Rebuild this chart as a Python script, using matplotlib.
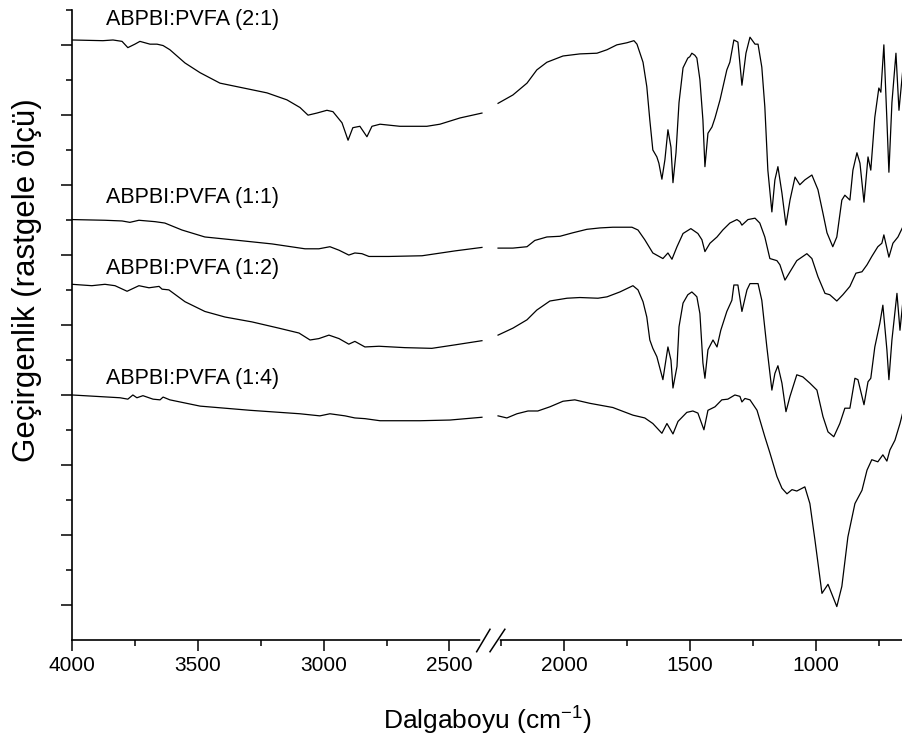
import numpy as np
import matplotlib.pyplot as plt

plt.rcParams['font.family'] = ['Liberation Sans', 'DejaVu Sans']
plt.rcParams['mathtext.fontset'] = 'custom'
plt.rcParams['mathtext.rm'] = 'Liberation Sans'
plt.rcParams['mathtext.it'] = 'Liberation Sans:italic'

# FTIR spectra, wavenumber (cm-1) and offset transmittance (arbitrary units)
# each spectrum in two pieces: above and below the axis break
wn_21_a = [4000, 3877, 3837, 3801, 3778, 3750, 3730, 3690, 3662, 3638, 3611, 3551, 3491, 3412, 3305,
           3225, 3146, 3094, 3062, 3027, 2987, 2963, 2927, 2903, 2884, 2856, 2828, 2808, 2776, 2697,
           2590, 2538, 2458, 2371]
tr_21_a = [8.06, 8.05, 8.06, 8.04, 7.95, 8.00, 8.04, 8.00, 8.00, 7.98, 7.92, 7.73, 7.59, 7.44, 7.36,
           7.30, 7.20, 7.09, 6.98, 7.01, 7.05, 7.03, 6.87, 6.62, 6.80, 6.82, 6.67, 6.82, 6.85, 6.82,
           6.82, 6.85, 6.94, 7.01]
wn_21_b = [2263, 2204, 2148, 2109, 2069, 2005, 1938, 1870, 1830, 1791, 1751, 1723, 1711, 1699, 1687,
           1672, 1660, 1648, 1632, 1624, 1612, 1600, 1588, 1576, 1568, 1556, 1544, 1528, 1509, 1501,
           1493, 1481, 1473, 1461, 1449, 1441, 1429, 1413, 1401, 1381, 1354, 1342, 1326, 1310, 1294,
           1278, 1262, 1242, 1230, 1215, 1203, 1191, 1175, 1163, 1151, 1135, 1119, 1103, 1083, 1064,
           1044, 1016, 992, 972, 956, 933, 917, 897, 885, 865, 853, 837, 825, 809, 793,
           782, 766, 750, 742, 730, 718, 710, 698, 682, 670, 654]
tr_21_b = [7.15, 7.27, 7.44, 7.63, 7.74, 7.83, 7.86, 7.87, 7.92, 7.99, 8.02, 8.05, 8.00, 7.87, 7.74,
           7.39, 6.91, 6.48, 6.38, 6.29, 6.06, 6.34, 6.77, 6.52, 6.01, 6.44, 7.16, 7.66, 7.80, 7.82,
           7.87, 7.84, 7.80, 7.49, 6.91, 6.24, 6.72, 6.81, 6.94, 7.20, 7.63, 7.74, 8.06, 8.03, 7.41,
           7.87, 8.10, 8.00, 8.00, 7.67, 7.10, 6.19, 5.59, 6.05, 6.24, 5.86, 5.40, 5.76, 6.09, 5.98,
           6.05, 6.12, 5.91, 5.57, 5.29, 5.09, 5.23, 5.76, 5.83, 5.76, 6.19, 6.44, 6.29, 5.73, 6.38,
           6.19, 6.95, 7.37, 7.31, 7.99, 6.91, 6.16, 7.16, 7.87, 7.05, 7.66]

wn_11_a = [4000, 3869, 3801, 3770, 3734, 3670, 3631, 3563, 3472, 3337, 3205, 3074, 3019, 2975, 2939,
           2900, 2876, 2848, 2820, 2741, 2609, 2478, 2371]
tr_11_a = [5.48, 5.47, 5.46, 5.44, 5.47, 5.45, 5.43, 5.33, 5.23, 5.18, 5.13, 5.06, 5.06, 5.09, 5.04,
           4.97, 5.00, 4.99, 4.95, 4.95, 4.96, 5.03, 5.08]
wn_11_b = [2263, 2204, 2148, 2117, 2069, 2017, 1966, 1910, 1858, 1807, 1731, 1707, 1680, 1648, 1608,
           1588, 1572, 1552, 1528, 1497, 1469, 1453, 1441, 1421, 1393, 1370, 1342, 1314, 1302, 1294,
           1270, 1242, 1223, 1203, 1183, 1155, 1143, 1123, 1103, 1076, 1036, 1016, 992, 964, 945,
           917, 893, 865, 841, 817, 797, 778, 754, 738, 730, 710, 694, 674, 654]
tr_11_b = [5.07, 5.07, 5.09, 5.18, 5.23, 5.24, 5.29, 5.34, 5.36, 5.37, 5.37, 5.33, 5.19, 5.00, 4.92,
           5.00, 4.91, 5.09, 5.28, 5.35, 5.28, 5.19, 5.02, 5.14, 5.23, 5.33, 5.43, 5.48, 5.45, 5.40,
           5.48, 5.50, 5.43, 5.23, 4.92, 4.89, 4.83, 4.61, 4.73, 4.89, 4.99, 4.92, 4.66, 4.42, 4.40,
           4.31, 4.40, 4.52, 4.71, 4.73, 4.83, 4.95, 5.09, 5.14, 5.26, 4.94, 5.14, 5.23, 5.38]

wn_12_a = [4000, 3921, 3869, 3829, 3781, 3734, 3694, 3654, 3642, 3615, 3551, 3472, 3392, 3285, 3178,
           3098, 3054, 3019, 2979, 2939, 2900, 2876, 2836, 2780, 2677, 2570, 2478, 2371]
tr_12_a = [4.55, 4.53, 4.55, 4.53, 4.45, 4.53, 4.50, 4.52, 4.48, 4.47, 4.30, 4.16, 4.08, 4.01, 3.92,
           3.85, 3.75, 3.77, 3.82, 3.77, 3.69, 3.73, 3.65, 3.66, 3.64, 3.63, 3.68, 3.74]
wn_12_b = [2263, 2204, 2148, 2109, 2057, 1989, 1938, 1866, 1830, 1779, 1727, 1707, 1687, 1672, 1660,
           1648, 1632, 1608, 1600, 1588, 1576, 1568, 1552, 1544, 1528, 1509, 1501, 1493, 1481, 1473,
           1461, 1449, 1441, 1429, 1409, 1393, 1378, 1354, 1334, 1326, 1310, 1294, 1274, 1262, 1230,
           1215, 1195, 1175, 1163, 1151, 1135, 1119, 1103, 1076, 1052, 1024, 996, 972, 952, 929,
           905, 885, 865, 845, 833, 809, 793, 782, 766, 746, 734, 718, 710, 698, 678,
           666, 654]
tr_12_b = [3.82, 3.92, 4.04, 4.18, 4.31, 4.35, 4.36, 4.35, 4.37, 4.44, 4.53, 4.47, 4.30, 4.08, 3.75,
           3.63, 3.51, 3.18, 3.37, 3.65, 3.46, 3.06, 3.37, 3.94, 4.28, 4.40, 4.42, 4.44, 4.40, 4.37,
           4.13, 3.42, 3.20, 3.61, 3.75, 3.65, 3.89, 4.16, 4.32, 4.54, 4.54, 4.16, 4.47, 4.56, 4.56,
           4.32, 3.65, 3.03, 3.27, 3.38, 3.13, 2.72, 2.94, 3.25, 3.22, 3.13, 3.03, 2.65, 2.43, 2.36,
           2.55, 2.77, 2.77, 3.20, 3.18, 2.82, 3.15, 3.20, 3.65, 3.99, 4.25, 3.61, 3.18, 3.75, 4.42,
           3.89, 4.32]

wn_14_a = [4000, 3809, 3778, 3758, 3742, 3718, 3678, 3650, 3638, 3611, 3491, 3293, 3094, 3015, 2975,
           2915, 2876, 2836, 2776, 2617, 2498, 2371]
tr_14_a = [2.96, 2.92, 2.90, 2.96, 2.92, 2.95, 2.90, 2.89, 2.93, 2.89, 2.80, 2.74, 2.69, 2.66, 2.69,
           2.66, 2.63, 2.62, 2.59, 2.59, 2.60, 2.64]
wn_14_b = [2263, 2228, 2188, 2144, 2105, 2057, 2005, 1958, 1898, 1807, 1727, 1680, 1648, 1612, 1592,
           1568, 1548, 1513, 1489, 1469, 1445, 1429, 1401, 1374, 1350, 1322, 1302, 1294, 1282, 1262,
           1234, 1203, 1183, 1155, 1135, 1115, 1095, 1076, 1044, 1024, 1004, 976, 952, 917, 897,
           873, 845, 817, 797, 778, 754, 734, 718, 706, 686, 666, 654]
tr_14_b = [2.66, 2.63, 2.69, 2.73, 2.73, 2.79, 2.87, 2.89, 2.84, 2.78, 2.67, 2.63, 2.55, 2.41, 2.55,
           2.40, 2.58, 2.71, 2.73, 2.70, 2.46, 2.74, 2.79, 2.89, 2.90, 2.96, 2.94, 2.86, 2.91, 2.89,
           2.74, 2.36, 2.13, 1.79, 1.62, 1.54, 1.60, 1.58, 1.64, 1.40, 0.88, 0.11, 0.24, -0.08, 0.21,
           0.92, 1.40, 1.59, 1.88, 2.03, 2.00, 2.10, 2.01, 2.17, 2.31, 2.55, 2.72]

labels = ['ABPBI:PVFA (2:1)', 'ABPBI:PVFA (1:1)', 'ABPBI:PVFA (1:2)', 'ABPBI:PVFA (1:4)']
label_y = [8.35, 5.80, 4.77, 3.20]

major_wn = [4000, 3500, 3000, 2500, 2000, 1500, 1000]
minor_wn = [3750, 3250, 2750, 2250, 1750, 1250, 750]

# the axis is cut between ~2370 and ~2270 cm-1; below the cut everything moves left by 44
SHIFT = 44


def to_u(w):
    w = np.asarray(w, dtype=float)
    return np.where(w > 2320, w, w + SHIFT)


spectra = [(wn_21_a, tr_21_a, wn_21_b, tr_21_b),
           (wn_11_a, tr_11_a, wn_11_b, tr_11_b),
           (wn_12_a, tr_12_a, wn_12_b, tr_12_b),
           (wn_14_a, tr_14_a, wn_14_b, tr_14_b)]

fig = plt.figure(figsize=(9.03, 7.46), dpi=100)
ax = fig.add_axes([0.0797, 0.1421, 0.9203, 0.8448])

for (wa, ta, wb, tb), lab, ly in zip(spectra, labels, label_y):
    ax.plot(to_u(wa), ta, color='black', lw=0.9)
    ax.plot(to_u(wb), tb, color='black', lw=0.9)
    ax.text(3865, ly, lab, fontsize=15.5, va='center', ha='left')

ax.set_xlim(4000, 698)
ymin, ymax = -0.56, 8.494
ax.set_ylim(ymin, ymax)

ax.set_xticks(to_u(major_wn))
ax.set_xticklabels([str(v) for v in major_wn])
ax.set_xticks(to_u(minor_wn), minor=True)

yt = np.linspace(ymin, ymax, 19)
ax.set_yticks(yt[1::2])
ax.set_yticks(yt[2::2], minor=True)
ax.set_yticklabels([])

for s in ['top', 'right']:
    ax.spines[s].set_visible(False)
for s in ['left', 'bottom']:
    ax.spines[s].set_linewidth(1.2)

ax.tick_params(which='major', direction='out', length=7.7, width=1.1, labelsize=15, pad=4)
ax.tick_params(which='minor', direction='out', length=4, width=1.1)

ax.set_xlabel('Dalgaboyu (cm$^{-1}$)', fontsize=19, labelpad=21)
ax.set_ylabel('Geçirgenlik (rastgele ölçü)', fontsize=22.5)
ax.yaxis.set_label_coords(-0.036, 0.571)

# break marks on the x axis
trans = ax.get_xaxis_transform()
ax.plot([2366, 2310], [0, 0], transform=trans, color='white', lw=4, clip_on=False, zorder=5)
for x0, x1 in [(2392, 2339), (2339, 2280)]:
    ax.plot([x0, x1], [-0.0186, 0.017], transform=trans, color='black', lw=1.1,
            clip_on=False, zorder=6)

fig.savefig('out.png', dpi=100)
